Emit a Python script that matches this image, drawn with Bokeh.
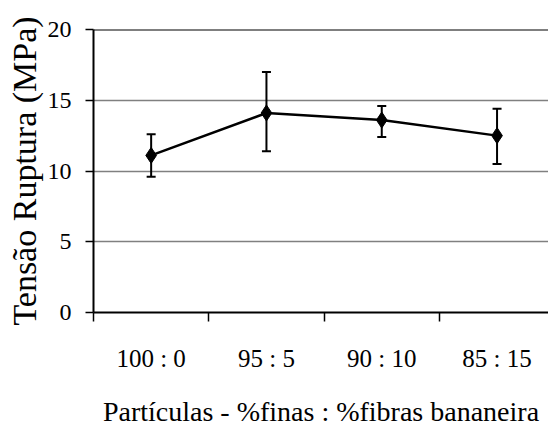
from bokeh.plotting import figure
from bokeh.models import (ColumnDataSource, Range1d, FixedTicker, Whisker, TeeHead, Span)
from bokeh.embed import file_html
from bokeh.resources import INLINE

categories = ["100 : 0", "95 : 5", "90 : 10", "85 : 15"]
tensao = [11.1, 14.1, 13.6, 12.5]
erro_sup = [12.6, 17.0, 14.6, 14.4]
erro_inf = [9.6, 11.4, 12.4, 10.5]
y_ticks = [0, 5, 10, 15, 20]

FONT = "'Liberation Serif', 'Times New Roman', serif"

xpos = [i + 0.5 for i in range(len(categories))]
src = ColumnDataSource(dict(x=xpos, y=tensao, upper=erro_sup, lower=erro_inf))

p = figure(width=548, height=432, output_backend="svg", toolbar_location=None,
           x_range=Range1d(0, 455 / 115.3), y_range=Range1d(0, 20),
           min_border_left=93, min_border_right=0, min_border_top=29, min_border_bottom=120)
p.outline_line_color = None
p.background_fill_color = "white"
p.border_fill_color = "white"

# x axis
p.xaxis.ticker = FixedTicker(ticks=xpos, minor_ticks=list(range(len(categories))))
p.xaxis.major_label_overrides = {x: c for x, c in zip(xpos, categories)}
p.xaxis.major_tick_line_color = None
p.xaxis.minor_tick_line_color = "black"
p.xaxis.minor_tick_line_width = 1.5
p.xaxis.minor_tick_out = 9
p.xaxis.minor_tick_in = 0
p.xaxis.axis_line_color = "black"
p.xaxis.axis_line_width = 2
p.xaxis.major_label_text_font = FONT
p.xaxis.major_label_text_font_size = "25px"
p.xaxis.major_label_text_color = "black"
p.xaxis.major_label_standoff = 23
p.xaxis.axis_label = "Partículas - %finas : %fibras bananeira"
p.xaxis.axis_label_text_font = FONT
p.xaxis.axis_label_text_font_size = "28px"
p.xaxis.axis_label_text_font_style = "normal"
p.xaxis.axis_label_text_color = "black"
p.xaxis.axis_label_standoff = 21

# y axis
p.yaxis.ticker = FixedTicker(ticks=y_ticks, minor_ticks=[])
p.yaxis.major_tick_line_color = "black"
p.yaxis.major_tick_line_width = 1.5
p.yaxis.major_tick_out = 8
p.yaxis.major_tick_in = 0
p.yaxis.axis_line_color = "black"
p.yaxis.axis_line_width = 2
p.yaxis.major_label_text_font = FONT
p.yaxis.major_label_text_font_size = "24px"
p.yaxis.major_label_text_color = "black"
p.yaxis.major_label_standoff = 14
p.yaxis.axis_label = "Tensão Ruptura (MPa)"
p.yaxis.axis_label_text_font = FONT
p.yaxis.axis_label_text_font_size = "34px"
p.yaxis.axis_label_text_font_style = "normal"
p.yaxis.axis_label_text_color = "black"
p.yaxis.axis_label_standoff = 2

p.xgrid.grid_line_color = None
p.ygrid.ticker = FixedTicker(ticks=[5, 10, 15])
p.ygrid.grid_line_color = "#808080"
p.ygrid.grid_line_width = 1.5

p.add_layout(Span(location=20, dimension="width", line_color="black", line_width=2))

p.add_layout(Whisker(base="x", upper="upper", lower="lower", source=src,
                     line_color="black", line_width=2,
                     upper_head=TeeHead(size=9, line_color="black", line_width=2),
                     lower_head=TeeHead(size=9, line_color="black", line_width=2)))
p.line("x", "y", source=src, line_color="black", line_width=2.5)
p.scatter("x", "y", source=src, marker="diamond", size=16, fill_color="black", line_color="black")

open("out.html", "w").write(file_html(p, INLINE))
